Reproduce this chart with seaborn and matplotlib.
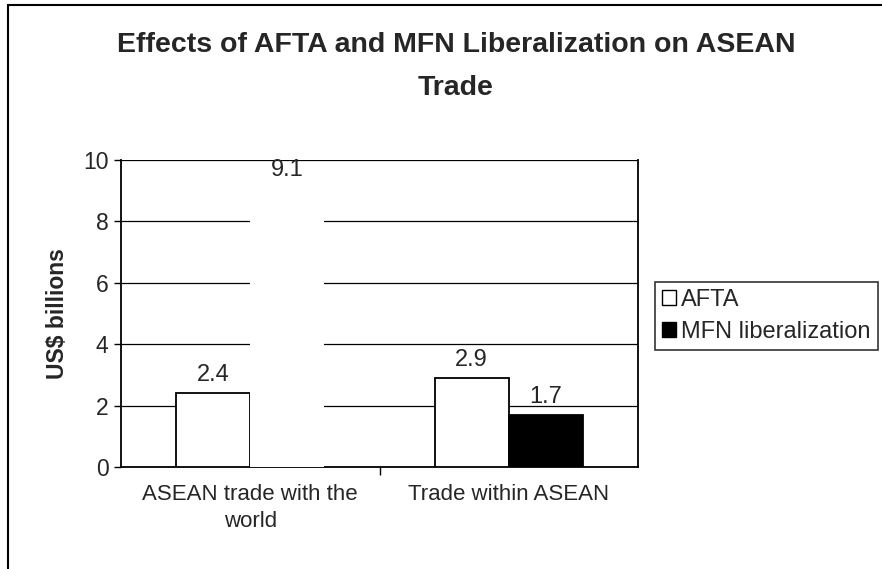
import matplotlib
matplotlib.use("Agg")
import matplotlib.pyplot as plt
from matplotlib.patches import Rectangle, Patch
from matplotlib.ticker import FixedLocator
import seaborn as sns
import pandas as pd

categories = ["ASEAN trade with the\nworld", "Trade within ASEAN"]
series = ["AFTA", "MFN liberalization"]
afta_values = [2.4, 2.9]
mfn_values = [9.1, 1.7]
value_labels_afta = ["2.4", "2.9"]
value_labels_mfn = ["9.1", "1.7"]

df = pd.DataFrame({
    "category": categories * 2,
    "series": [series[0]] * 2 + [series[1]] * 2,
    "value": afta_values + mfn_values,
})

sns.set_theme(style="white")
plt.rcParams["font.family"] = ["Liberation Sans", "DejaVu Sans"]

fig = plt.figure(figsize=(8.82, 5.69), dpi=100)
ax = fig.add_axes([121 / 882, 1 - 467 / 569, (638 - 121) / 882, (467 - 160) / 569])

sns.barplot(data=df, x="category", y="value", hue="series", order=categories,
            hue_order=series, palette=["white", "black"], width=0.574, gap=0,
            edgecolor="black", linewidth=1.3, legend=False, ax=ax, zorder=3)

# the scanned MFN bar for the world appears blank (white, no outline)
world_mfn = ax.containers[1].patches[0]
world_mfn.set_facecolor("white")
world_mfn.set_edgecolor("white")
world_mfn.set_linewidth(0)

ax.bar_label(ax.containers[0], labels=value_labels_afta, padding=5, fontsize=17)
ax.bar_label(ax.containers[1], labels=value_labels_mfn, padding=5, fontsize=17)

ax.set_ylim(0, 10)
ax.set_xlim(-0.5, 1.5)
ax.set_yticks([0, 2, 4, 6, 8, 10])
ax.yaxis.grid(True, color="black", linewidth=0.9, zorder=1)
ax.set_axisbelow(True)
ax.tick_params(axis="y", labelsize=16.5, length=5, width=1, color="black", left=True, pad=4)
ax.tick_params(axis="x", labelsize=16, length=0, pad=12)
ax.xaxis.set_minor_locator(FixedLocator([0.5]))
ax.tick_params(axis="x", which="minor", length=6, width=1, color="black", bottom=True)
for lbl in ax.get_xticklabels():
    lbl.set_linespacing(1.4)

ax.set_xlabel("")
ax.set_ylabel("US$ billions", fontsize=16.5, fontweight="bold", labelpad=10)
for side in ["left", "bottom", "right"]:
    ax.spines[side].set_visible(True)
    ax.spines[side].set_color("black")
    ax.spines[side].set_linewidth(1.3)
ax.spines["top"].set_visible(False)

fig.text(456 / 882, 1 - 45 / 569, "Effects of AFTA and MFN Liberalization on ASEAN",
         ha="center", va="center", fontsize=20.5, fontweight="bold")
fig.text(456 / 882, 1 - 88 / 569, "Trade", ha="center", va="center",
         fontsize=20.5, fontweight="bold")

handles = [Patch(facecolor="white", edgecolor="black", linewidth=1),
           Patch(facecolor="black", edgecolor="black", linewidth=1)]
leg = fig.legend(handles, series, loc="center left",
                 bbox_to_anchor=(655 / 882, 1 - 316 / 569), fontsize=17,
                 frameon=True, fancybox=False, edgecolor="black",
                 handlelength=0.6, handleheight=0.6, handletextpad=0.2,
                 borderpad=0.3, labelspacing=0.45, borderaxespad=0)
leg.get_frame().set_linewidth(1.2)

fig.patches.append(Rectangle((8 / 882, -0.05), 1, 1.05 - 5 / 569, transform=fig.transFigure,
                             fill=False, edgecolor="black", linewidth=1.5))

fig.savefig("out.png", dpi=100)
